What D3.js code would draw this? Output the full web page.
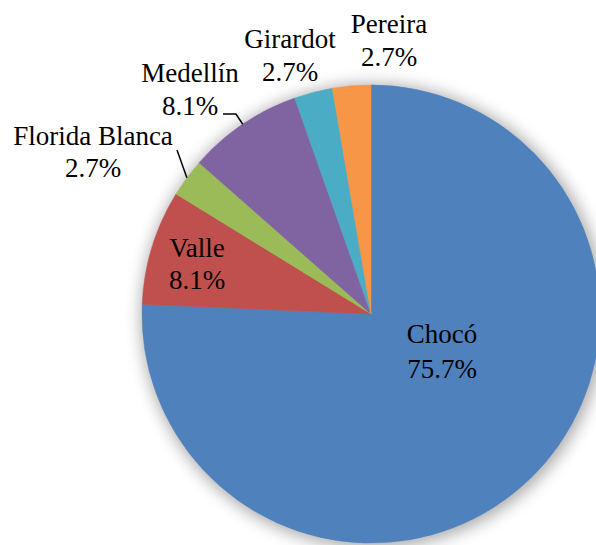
<!DOCTYPE html>
<html>
<head>
<meta charset="utf-8">
<script src="https://cdn.jsdelivr.net/npm/d3@7/dist/d3.min.js"></script>
<style>
  html, body { margin: 0; padding: 0; background: #fff; }
  svg { display: block; }
  text { font-family: "Liberation Serif", Tinos, "Times New Roman", Times, "Noto Serif", "DejaVu Serif", serif; font-size: 27px; fill: #000; }
</style>
</head>
<body>
<svg id="chart" width="596" height="545"></svg>
<script>
// ---- data ----
const categories = ["Chocó", "Valle", "Florida Blanca", "Medellín", "Girardot", "Pereira"];
const counts = [28, 3, 1, 3, 1, 1];
const percentLabels = ["75.7%", "8.1%", "2.7%", "8.1%", "2.7%", "2.7%"];
const colors = ["#4F81BD", "#C0504D", "#9BBB59", "#8064A2", "#4BACC6", "#F79646"];

// ---- layout ----
const W = 596, H = 545;
const cx = 371, cy = 314, R = 229;
// label anchor: center x, first baseline, second baseline
const labelLayout = [
  { x: 442, y1: 343, y2: 378 },
  { x: 197, y1: 257, y2: 289 },
  { x: 93,  y1: 145, y2: 177 },
  { x: 190, y1: 82,  y2: 115 },
  { x: 290, y1: 48,  y2: 81 },
  { x: 389, y1: 33,  y2: 66 }
];
// leader line start points (only for labels outside)
const leaderStarts = [null, null, [[177, 150]], [[223, 114], [236, 114]], null, null];

const svg = d3.select("#chart");
const defs = svg.append("defs");
const f = defs.append("filter").attr("id", "shadow")
  .attr("x", "-30%").attr("y", "-30%").attr("width", "160%").attr("height", "160%");
f.append("feGaussianBlur").attr("stdDeviation", 8);

const g = svg.append("g").attr("transform", `translate(${cx},${cy})`);

g.append("circle").attr("r", R + 3).attr("cx", 2).attr("cy", 2)
  .attr("fill", "#000").attr("opacity", 0.33).attr("filter", "url(#shadow)");

const pie = d3.pie().sort(null).value(d => d)(counts);
const arc = d3.arc().innerRadius(0).outerRadius(R);

g.selectAll("path.slice").data(pie).join("path")
  .attr("class", "slice")
  .attr("d", arc)
  .attr("fill", (d, i) => colors[i])
  .attr("stroke", (d, i) => colors[i])
  .attr("stroke-width", 0.5);

// leader lines
pie.forEach((d, i) => {
  if (!leaderStarts[i]) return;
  const mid = (d.startAngle + d.endAngle) / 2;
  const end = [cx + Math.sin(mid) * R, cy - Math.cos(mid) * R];
  const pts = leaderStarts[i].concat([end]);
  svg.append("path")
    .attr("d", d3.line()(pts))
    .attr("fill", "none")
    .attr("stroke", "#000")
    .attr("stroke-width", 1.5);
});

// labels
categories.forEach((c, i) => {
  const L = labelLayout[i];
  const t = svg.append("text").attr("text-anchor", "middle");
  t.append("tspan").attr("x", L.x).attr("y", L.y1).text(c);
  t.append("tspan").attr("x", L.x).attr("y", L.y2).text(percentLabels[i]);
});
</script>
</body>
</html>
